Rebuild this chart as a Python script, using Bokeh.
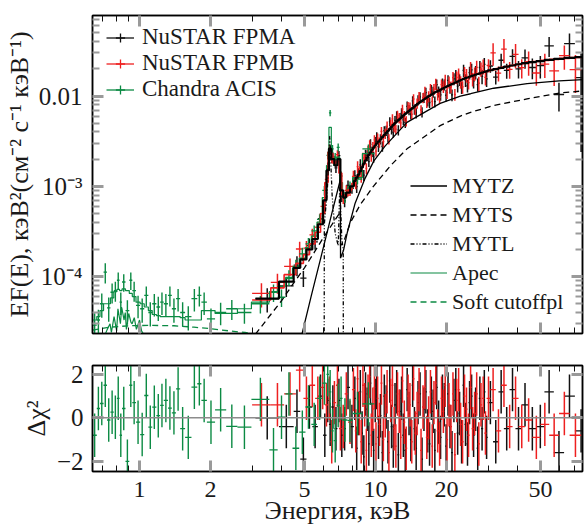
import numpy as np
from bokeh.plotting import figure
from bokeh.models import (Range1d, FixedTicker, CustomJSTickFormatter, LogAxis, LinearAxis,
                          Legend, LegendItem, Span, ColumnDataSource)
from bokeh.layouts import column
from bokeh.embed import file_html
from bokeh.resources import INLINE

# ---------------- data ----------------
# NuSTAR FPMA: bin edges (keV), EF(E), fractional error, residual (sigma), folded model
FPMA_edges = [3.1, 3.9, 4.5, 4.8, 5.1, 5.4, 5.7, 6.0, 6.2, 6.35, 6.5, 6.7, 6.9, 7.1, 7.3, 7.5, 7.8,
              8.1, 8.25, 8.4, 8.55, 8.7, 8.85, 9.0, 9.15, 9.3, 9.45, 9.6, 9.75, 9.9, 10.05, 10.2,
              10.4, 10.6, 10.8, 11.0, 11.2, 11.4, 11.6, 11.8, 12.0, 12.2, 12.4, 12.6, 12.8, 13.0,
              13.25, 13.5, 13.75, 14.0, 14.25, 14.5, 14.75, 15.0, 15.3, 15.6, 15.9, 16.2, 16.5,
              16.8, 17.1, 17.4, 17.7, 18.0, 18.35, 18.7, 19.05, 19.4, 19.75, 20.1, 20.5, 20.9,
              21.3, 21.7, 22.1, 22.5, 22.95, 23.4, 23.85, 24.3, 24.8, 25.3, 25.8, 26.3, 26.85,
              27.4, 28.0, 28.6, 29.25, 29.9,
              31.5, 33.2, 35.0, 37.0, 39.2, 41.6, 44.5, 48.0, 52.0, 57.0, 63.0, 70.0, 79.0]
FPMA_flux = [5.7e-5, 7.9e-5, 1.34e-4, 9.6e-5, 2.2e-4, 2.42e-4, 4.37e-4, 6.16e-4, 1.64e-3, 2.52e-3,
             2.12e-3, 1.6e-3, 2.19e-3, 7.9e-4, 6.9e-4, 1.02e-3, 9.5e-4,
             1.31e-3, 9.9e-4, 1.39e-3, 1.73e-3, 1.46e-3, 1.33e-3, 2.23e-3, 2.2e-3, 1.88e-3, 2.91e-3,
             2.43e-3, 2.12e-3, 3.12e-3, 3.52e-3, 2.75e-3, 3.34e-3, 2.77e-3, 4.14e-3, 4.15e-3, 3.51e-3,
             5.21e-3, 4.31e-3, 3.97e-3, 5.36e-3, 6.01e-3, 4.21e-3, 5.8e-3, 6.48e-3, 5.45e-3, 5.1e-3,
             7.69e-3, 7.02e-3, 6.25e-3, 8.82e-3, 7.15e-3, 6.49e-3, 9.0e-3, 9.77e-3, 6.66e-3, 9.63e-3,
             1.09e-2, 8.93e-3, 8.48e-3, 1.165e-2, 1.11e-2, 8.65e-3, 1.34e-2, 1.12e-2, 1.03e-2, 1.37e-2,
             1.34e-2, 1.02e-2, 1.49e-2, 1.245e-2, 1.03e-2, 1.55e-2, 1.69e-2, 1.29e-2, 1.52e-2, 1.25e-2,
             1.92e-2, 1.5e-2, 1.3e-2, 1.82e-2, 1.95e-2, 1.46e-2, 1.84e-2, 1.34e-2, 2.07e-2, 1.65e-2,
             2.24e-2, 1.55e-2,
             2.15e-2, 1.62e-2, 2.49e-2, 1.92e-2, 2.75e-2, 2.0e-2, 2.64e-2, 2.07e-2, 2.17e-2, 3.6e-2,
             1.04e-2, 3.8e-2, 1.6e-2]
FPMA_ferr = [0.30, 0.25, 0.25, 0.20, 0.20, 0.18, 0.15, 0.15, 0.12, 0.10,
             0.12, 0.12, 0.12, 0.15, 0.15, 0.14, 0.13,
             0.15, 0.15, 0.14, 0.15, 0.14, 0.14, 0.14, 0.14, 0.13, 0.14,
             0.13, 0.14, 0.13, 0.13, 0.13, 0.13, 0.13, 0.12, 0.13, 0.13,
             0.12, 0.13, 0.13, 0.12, 0.13, 0.13, 0.12, 0.13, 0.13, 0.13,
             0.13, 0.13, 0.12, 0.13, 0.13, 0.13, 0.13, 0.13, 0.13, 0.13,
             0.13, 0.14, 0.13, 0.14, 0.14, 0.14, 0.14, 0.14, 0.14, 0.14,
             0.14, 0.15, 0.14, 0.15, 0.15, 0.15, 0.15, 0.15, 0.15, 0.16,
             0.16, 0.16, 0.16, 0.16, 0.17, 0.17, 0.17, 0.17, 0.18, 0.18,
             0.18, 0.19,
             0.16, 0.17, 0.18, 0.19, 0.20, 0.22, 0.24, 0.26, 0.28, 0.25,
             0.35, 0.30, 0.85]
FPMA_resid = [0.0, -0.4, 0.3, -1.9, 0.5, -0.4, 1.0, -0.8, 0.8, -0.3,
              0.5, -0.5, 0.8, -0.8, -0.5, 1.4, -0.4,
              0.9, -1.4, 0.2, 1.2, -0.7, -1.8, 1.1, 0.4, -1.2, 1.6,
              -0.3, -1.5, 0.8, 1.4, -0.9, 0.1, -1.6, 1.0, 0.5, -1.1,
              1.7, -0.4, -1.3, 0.6, 1.2, -1.7, 0.3, 0.9, -0.8, -1.5,
              1.3, 0.2, -1.0, 1.5, -0.5, -1.4, 0.7, 1.1, -1.9, 0.4,
              1.2, -0.6, -1.2, 0.9, 0.3, -1.5, 1.4, -0.2, -0.9, 1.0,
              0.6, -1.3, 1.1, -0.4, -1.6, 0.8, 1.3, -0.7, 0.2, -1.1,
              1.5, -0.3, -1.2, 0.7, 1.0, -0.8, 0.4, -1.4, 0.9, -0.5,
              1.2, -0.9,
              0.7, -1.1, 1.2, -0.5, 1.3, -0.5, 0.6, -0.5, -0.4, 1.2,
              -1.6, 1.0, -0.6]
FPMA_model = [5.7e-5, 8.8e-5, 1.25e-4, 1.55e-4, 2.0e-4, 2.6e-4, 3.8e-4, 7.0e-4, 1.5e-3, 2.6e-3,
              2.0e-3, 1.7e-3, 2.0e-3, 9.0e-4, 7.5e-4, 8.5e-4, 1.0e-3,
              1.15e-3, 1.25e-3, 1.35e-3, 1.47e-3, 1.62e-3, 1.78e-3, 1.93e-3, 2.08e-3, 2.23e-3, 2.38e-3,
              2.53e-3, 2.68e-3, 2.83e-3, 2.98e-3, 3.12e-3, 3.3e-3, 3.5e-3, 3.7e-3, 3.9e-3, 4.1e-3,
              4.33e-3, 4.55e-3, 4.78e-3, 5.0e-3, 5.2e-3, 5.4e-3, 5.6e-3, 5.8e-3, 6.08e-3, 6.33e-3,
              6.58e-3, 6.84e-3, 7.1e-3, 7.38e-3, 7.65e-3, 7.93e-3, 8.25e-3, 8.55e-3, 8.85e-3, 9.15e-3,
              9.45e-3, 9.75e-3, 1.005e-2, 1.035e-2, 1.065e-2, 1.095e-2, 1.12e-2, 1.15e-2, 1.175e-2, 1.205e-2,
              1.235e-2, 1.265e-2, 1.295e-2, 1.325e-2, 1.355e-2, 1.385e-2, 1.415e-2, 1.445e-2, 1.48e-2, 1.515e-2,
              1.545e-2, 1.575e-2, 1.605e-2, 1.635e-2, 1.665e-2, 1.695e-2, 1.725e-2, 1.755e-2, 1.785e-2, 1.815e-2,
              1.845e-2, 1.875e-2,
              1.93e-2, 1.99e-2, 2.05e-2, 2.12e-2, 2.18e-2, 2.25e-2, 2.31e-2, 2.38e-2, 2.44e-2, 2.51e-2,
              2.58e-2, 2.64e-2, 2.7e-2]

# NuSTAR FPMB
FPMB_edges = [3.0, 3.6, 4.1, 4.6, 4.95, 5.25, 5.55, 5.85, 6.1, 6.3, 6.45, 6.6, 6.8, 7.0, 7.2, 7.4,
              7.65, 7.95,
              8.175, 8.325, 8.475, 8.625, 8.775, 8.925, 9.075, 9.225, 9.375, 9.525, 9.675, 9.825,
              9.975, 10.125, 10.3, 10.5, 10.7, 10.9, 11.1, 11.3, 11.5, 11.7, 11.9, 12.1, 12.3, 12.5,
              12.7, 12.9, 13.125, 13.375, 13.625, 13.875, 14.125, 14.375, 14.625, 14.875, 15.15,
              15.45, 15.75, 16.05, 16.35, 16.65, 16.95, 17.25, 17.55, 17.85, 18.175, 18.525, 18.875,
              19.225, 19.575, 19.925, 20.3, 20.7, 21.1, 21.5, 21.9, 22.3, 22.725, 23.175, 23.625,
              24.075, 24.55, 25.05, 25.55, 26.05, 26.575, 27.125, 27.7, 28.3, 28.925, 29.575,
              30.7, 32.35, 34.1, 36.0, 38.1, 40.4, 43.0, 46.2, 50.0, 54.5, 60.0, 66.5, 74.5]
FPMB_flux = [6.5e-5, 8.6e-5, 1.3e-4, 2.02e-4, 2.07e-4, 2.89e-4, 3.52e-4, 5.98e-4, 1.19e-3, 2.62e-3,
             2.02e-3, 1.95e-3, 2.24e-3, 1.31e-3, 7.5e-4, 9.0e-4, 8.96e-4,
             1.29e-3, 1.09e-3, 1.65e-3, 1.45e-3, 1.29e-3, 2.06e-3, 2.01e-3, 1.58e-3, 2.46e-3, 2.87e-3,
             2.18e-3, 2.74e-3, 3.26e-3, 2.45e-3, 3.41e-3, 3.08e-3, 4.05e-3, 3.13e-3, 3.85e-3, 4.62e-3,
             3.34e-3, 4.87e-3, 5.57e-3, 4.57e-3, 4.3e-3, 6.06e-3, 5.71e-3, 5.03e-3, 7.15e-3, 6.04e-3,
             5.28e-3, 7.58e-3, 7.51e-3, 6.28e-3, 9.27e-3, 7.08e-3, 8.3e-3, 9.82e-3, 7.0e-3, 9.59e-3,
             1.11e-2, 8.48e-3, 9.9e-3, 1.19e-2, 8.73e-3, 1.19e-2, 1.36e-2, 1.04e-2, 9.68e-3, 1.34e-2,
             1.27e-2, 1.51e-2, 1.09e-2, 1.43e-2, 1.26e-2, 1.6e-2, 1.04e-2, 1.61e-2, 1.75e-2, 1.43e-2,
             1.26e-2, 1.81e-2, 1.7e-2, 1.41e-2, 2.04e-2, 1.54e-2, 1.77e-2, 2.08e-2, 1.39e-2, 1.99e-2,
             2.14e-2, 1.61e-2,
             2.19e-2, 3.0e-2, 1.79e-2, 3.3e-2, 1.97e-2, 2.9e-2, 2.06e-2, 2.4e-2, 1.8e-2, 2.26e-2,
             1.9e-2, 2.8e-2, 1.96e-2]
FPMB_ferr = [0.30, 0.25, 0.22, 0.20, 0.20, 0.17, 0.15, 0.14, 0.13, 0.10,
             0.11, 0.12, 0.12, 0.13, 0.15, 0.14, 0.13,
             0.15, 0.15, 0.15, 0.14, 0.15, 0.14, 0.14, 0.14, 0.14, 0.13,
             0.14, 0.13, 0.13, 0.13, 0.13, 0.13, 0.12, 0.13, 0.13, 0.13,
             0.13, 0.12, 0.13, 0.13, 0.12, 0.13, 0.13, 0.13, 0.12, 0.13,
             0.13, 0.13, 0.13, 0.12, 0.13, 0.13, 0.13, 0.13, 0.13, 0.13,
             0.14, 0.13, 0.14, 0.14, 0.13, 0.14, 0.14, 0.14, 0.14, 0.14,
             0.15, 0.14, 0.15, 0.15, 0.15, 0.15, 0.15, 0.16, 0.15, 0.16,
             0.16, 0.16, 0.17, 0.16, 0.17, 0.17, 0.17, 0.18, 0.18, 0.18,
             0.19, 0.19,
             0.17, 0.28, 0.19, 0.30, 0.21, 0.30, 0.24, 0.30, 0.28, 0.30,
             0.32, 0.30, 0.45]
FPMB_resid = [0.6, 0.6, 1.1, 2.2, 0.9, 1.5, 0.9, 1.4, 0.6, 0.9,
              -1.1, 0.7, 1.5, -0.5, -0.4, 1.1, -0.2,
              1.3, -0.6, 1.8, 0.2, -1.1, 1.5, 0.6, -1.5, 1.0, 1.9,
              -0.8, 0.4, 1.4, -1.2, 0.9, -0.3, 1.6, -1.0, 0.1, 1.2,
              -1.6, 0.8, 1.5, -0.5, -1.3, 1.1, 0.3, -0.9, 1.7, -0.2,
              -1.4, 1.0, 0.6, -1.1, 1.8, -0.7, 0.2, 1.3, -1.5, 0.5,
              1.4, -0.9, 0.0, 1.2, -1.3, 0.7, 1.6, -0.6, -1.2, 0.9,
              0.3, 1.5, -1.0, 0.6, -0.4, 1.1, -1.7, 0.8, 1.3, -0.3,
              -1.1, 1.0, 0.4, -0.8, 1.4, -0.5, 0.2, 1.1, -1.2, 0.6,
              0.9, -0.7,
              0.9, 1.3, -0.6, 1.5, -0.4, 0.9, -0.4, -0.1, -0.9, -0.3,
              -0.8, 0.2, -0.8]
FPMB_model = [5.5e-5, 7.5e-5, 1.05e-4, 1.4e-4, 1.75e-4, 2.3e-4, 3.1e-4, 5.0e-4, 1.1e-3, 2.4e-3,
              2.3e-3, 1.8e-3, 1.9e-3, 1.4e-3, 8.0e-4, 7.8e-4, 9.2e-4,
              1.08e-3, 1.2e-3, 1.3e-3, 1.41e-3, 1.545e-3, 1.7e-3, 1.855e-3, 2.005e-3, 2.155e-3, 2.305e-3,
              2.455e-3, 2.605e-3, 2.755e-3, 2.905e-3, 3.05e-3, 3.21e-3, 3.4e-3, 3.6e-3, 3.8e-3, 4.0e-3,
              4.215e-3, 4.44e-3, 4.665e-3, 4.89e-3, 5.1e-3, 5.3e-3, 5.5e-3, 5.7e-3, 5.94e-3, 6.205e-3,
              6.455e-3, 6.71e-3, 6.97e-3, 7.24e-3, 7.515e-3, 7.79e-3, 8.09e-3, 8.4e-3, 8.7e-3, 9.0e-3,
              9.3e-3, 9.6e-3, 9.9e-3, 1.02e-2, 1.05e-2, 1.08e-2, 1.108e-2, 1.135e-2, 1.163e-2, 1.19e-2,
              1.22e-2, 1.25e-2, 1.28e-2, 1.31e-2, 1.34e-2, 1.37e-2, 1.4e-2, 1.43e-2, 1.463e-2, 1.498e-2,
              1.53e-2, 1.56e-2, 1.59e-2, 1.62e-2, 1.65e-2, 1.68e-2, 1.71e-2, 1.74e-2, 1.77e-2, 1.8e-2,
              1.83e-2, 1.86e-2,
              1.9e-2, 1.96e-2, 2.02e-2, 2.09e-2, 2.15e-2, 2.22e-2, 2.28e-2, 2.35e-2, 2.41e-2, 2.48e-2,
              2.55e-2, 2.61e-2, 2.67e-2]

# Chandra ACIS
ACIS_edges = [0.632, 0.659, 0.680, 0.704, 0.728, 0.753, 0.778, 0.802, 0.823, 0.843,
              0.872, 0.905, 0.932, 0.966, 1.006, 1.047, 1.090, 1.132, 1.179, 1.223,
              1.267, 1.320, 1.371, 1.428, 1.487, 1.560, 1.660, 1.757, 1.829, 1.930,
              2.090, 2.330, 2.600, 2.980, 3.550, 3.850, 4.150, 4.450, 4.750, 5.050,
              5.350, 5.650, 5.950, 6.200, 6.350, 6.500, 6.650, 6.850, 7.050, 7.250,
              7.600, 8.000, 8.800, 9.900]
ACIS_flux = [2.9e-5, 3.3e-5, 5.0e-5, 1.12e-4, 4.5e-5, 6.7e-5, 7.0e-5, 9.1e-5, 5.2e-5, 8.7e-5,
             4.2e-5, 9.1e-5, 7.0e-5, 4.8e-5, 4.4e-5, 6.2e-5, 4.0e-5, 5.0e-5, 4.6e-5, 5.2e-5,
             5.0e-5, 6.2e-5, 4.4e-5, 5.7e-5, 4.0e-5, 3.6e-5, 5.7e-5, 6.2e-5, 5.2e-5, 3.4e-5,
             4.0e-5, 4.4e-5, 4.0e-5, 5.0e-5, 6.7e-5, 5.9e-5, 9.8e-5, 1.3e-4, 1.78e-4, 2.3e-4,
             3.2e-4, 4.3e-4, 9.0e-4, 2.2e-3, 6.5e-3, 2.6e-3, 2.1e-3, 2.7e-3, 1.3e-3, 7.6e-4,
             1.0e-3, 1.2e-3, 2.6e-3]
ACIS_ferr = [0.35, 0.30, 0.30, 0.25, 0.30, 0.25, 0.25, 0.22, 0.28, 0.22,
             0.30, 0.22, 0.25, 0.28, 0.30, 0.25, 0.30, 0.28, 0.30, 0.28,
             0.28, 0.25, 0.30, 0.28, 0.30, 0.30, 0.28, 0.25, 0.28, 0.30,
             0.28, 0.25, 0.25, 0.22, 0.22, 0.22, 0.20, 0.18, 0.17, 0.16,
             0.15, 0.14, 0.12, 0.10, 0.08, 0.10, 0.11, 0.10, 0.12, 0.14,
             0.13, 0.12, 0.12]
ACIS_resid = [-0.8, 0.43, 0.66, 1.5, -0.1, 0.26, 0.03, 0.9, -0.8, 0.43,
              -2.0, 1.5, 0.7, -0.2, -0.77, 1.03, -0.43, 0.49, 0.1, 0.57,
              0.8, 0.45, 0.23, 1.33, -0.5, -0.9, 1.41, 1.57, 0.8, -0.2,
              0.37, -0.39, -0.43, 0.85, -1.47, 0.03, 1.1, -1.4, -0.66, 0.5,
              -0.3, 0.9, 1.6, 2.0, 1.2, -0.6, -1.05, 0.57, 0.9, -0.1,
              -0.12, 0.2, 0.64]
ACIS_model = [3.3e-5, 3.6e-5, 4.2e-5, 5.0e-5, 5.0e-5, 5.8e-5, 6.8e-5, 7.2e-5, 7.0e-5, 7.3e-5,
              7.0e-5, 6.5e-5, 6.0e-5, 5.2e-5, 5.0e-5, 4.6e-5, 4.2e-5, 3.8e-5, 3.7e-5, 3.6e-5,
              3.6e-5, 3.6e-5, 3.6e-5, 3.6e-5, 3.5e-5, 3.3e-5, 3.3e-5, 3.3e-5, 4.2e-5, 4.2e-5,
              3.9e-5, 3.9e-5, 4.4e-5, 5.2e-5, 6.8e-5, 7.8e-5, 9.5e-5, 1.25e-4, 1.6e-4, 2.1e-4,
              2.8e-4, 4.0e-4, 7.5e-4, 1.7e-3, 4.5e-3, 2.0e-3, 1.7e-3, 2.1e-3, 1.1e-3, 7.8e-4,
              9.5e-4, 1.25e-3, 2.3e-3]
RESID_ERR = 1.0  # residuals are in units of sigma

# model components (E in keV, EF(E))
MYTZ_E = [4.86, 5.35, 5.9, 6.5, 7.1, 7.11, 7.32, 7.6, 8.2, 9.0, 9.83, 11.0, 13.6, 18.8, 22.9,
          25.3, 31.7, 43.9, 60.0, 76.0]
MYTZ_F = [2.2e-5, 6.2e-5, 1.72e-4, 4.77e-4, 1.19e-3, 1.6e-4, 1.95e-4, 3.1e-4, 6.5e-4, 1.2e-3,
          1.9e-3, 2.8e-3, 5.1e-3, 8.3e-3, 1.0e-2, 1.06e-2, 1.22e-2, 1.37e-2, 1.47e-2, 1.52e-2]
MYTS_E = [3.1, 3.6, 4.0, 4.49, 5.0, 5.5, 6.02, 6.6, 7.1, 7.11, 7.32, 7.83, 8.6, 9.8, 11.6, 13.6,
          18.8, 22.9, 25.3, 31.7, 43.9, 60.6, 76.0]
MYTS_F = [2.3e-5, 3.8e-5, 5.4e-5, 8.4e-5, 1.25e-4, 1.85e-4, 2.71e-4, 3.9e-4, 5.2e-4, 2.2e-4,
          2.4e-4, 3.97e-4, 6.2e-4, 1.0e-3, 1.7e-3, 2.6e-3, 4.7e-3, 6.0e-3, 6.6e-3, 7.85e-3,
          9.3e-3, 1.08e-2, 1.14e-2]
MYTL_E = [6.05, 6.07, 6.25, 6.4, 6.55, 6.75, 6.95, 7.06, 7.2, 7.3, 7.32]
MYTL_F = [1e-7, 3.8e-4, 9e-4, 3.6e-3, 8e-4, 3.0e-4, 2.2e-4, 1.0e-3, 2.6e-4, 2.0e-4, 1e-7]
APEC_E = [0.632, 0.70, 0.73, 0.75, 0.76, 0.78, 0.80, 0.81, 0.83, 0.84, 0.86, 0.87, 0.88, 0.90,
          0.92, 0.93, 0.95, 0.97, 1.00, 1.02, 1.05, 1.10, 1.2]
APEC_F = [1.5e-5, 2.0e-5, 2.6e-5, 3.0e-5, 2.4e-5, 3.6e-5, 2.5e-5, 4.4e-5, 3.0e-5, 4.6e-5, 3.3e-5,
          4.0e-5, 2.6e-5, 3.9e-5, 3.1e-5, 3.0e-5, 3.5e-5, 2.6e-5, 3.3e-5, 2.5e-5, 2.2e-5, 1.5e-5,
          1.0e-5]
SOFT_E = [0.632, 0.75, 0.9, 1.1, 1.4, 1.7, 2.0, 2.4, 2.8, 3.3]
SOFT_F = [2.55e-5, 2.75e-5, 2.85e-5, 2.88e-5, 2.85e-5, 2.75e-5, 2.65e-5, 2.5e-5, 2.4e-5, 2.25e-5]

for nm, e, a, b, c, d in [("FPMA", FPMA_edges, FPMA_flux, FPMA_ferr, FPMA_resid, FPMA_model),
                          ("FPMB", FPMB_edges, FPMB_flux, FPMB_ferr, FPMB_resid, FPMB_model),
                          ("ACIS", ACIS_edges, ACIS_flux, ACIS_ferr, ACIS_resid, ACIS_model)]:
    n = len(e) - 1
    if not (len(a) == len(b) == len(c) == len(d) == n):
        raise SystemExit(f"{nm}: bins {n}, flux {len(a)}, ferr {len(b)}, resid {len(c)}, model {len(d)}")

# axes
XT_MAJOR = [1, 2, 5, 10, 20, 50]
XT_LABELS = ["1", "2", "5", "10", "20", "50"]
XT_MINOR = [0.7, 0.8, 0.9, 3, 4, 6, 7, 8, 9, 30, 40, 60, 70]
YT_MAJOR = [1e-4, 1e-3, 1e-2]
YT_LABELS = ["10⁻⁴", "10⁻³", "0.01"]
YT_MINOR = [k * 10.0 ** e for e in (-5, -4, -3, -2) for k in range(2, 10)]
RT_MAJOR = [-2, 0, 2]
RT_LABELS = ["−2", "0", "2"]
XR = (0.632, 75.4)
YR_TOP = (2.34e-5, 0.078)
YR_RES = (-2.47, 2.41)

# ---------------- style ----------------
FONT = "Liberation Serif"
TXT = "#1a1a1a"
BLACK = "#111111"
RED = "#ee2020"
GREEN = "#0b8a43"
W = 584


def fmt(vals, labs):
    return CustomJSTickFormatter(args=dict(vals=list(vals), labs=list(labs)), code="""
        for (let i = 0; i < vals.length; i++) {
            if (Math.abs(tick - vals[i]) <= 1e-9 + 1e-6 * Math.abs(vals[i])) return labs[i];
        }
        return "";
    """)


def style_axis(ax, ticks, minor, labels, minor_color=BLACK, minor_w=1, minor_len=6, size="24px"):
    ax.ticker = FixedTicker(ticks=list(ticks), minor_ticks=list(minor))
    ax.axis_line_color = "black"
    ax.axis_line_width = 1.5
    ax.major_tick_in = 11
    ax.major_tick_out = 0
    ax.major_tick_line_color = "#9a9a9a"
    ax.major_tick_line_width = 3
    ax.minor_tick_in = minor_len
    ax.minor_tick_out = 0
    ax.minor_tick_line_color = minor_color
    ax.minor_tick_line_width = minor_w
    ax.major_label_text_font = FONT
    ax.major_label_text_color = TXT
    ax.axis_label_text_font = FONT
    ax.axis_label_text_font_style = "normal"
    ax.axis_label_text_color = TXT
    if labels is None:
        ax.formatter = CustomJSTickFormatter(code="return '';")
        ax.major_label_text_font_size = "1px"
        ax.major_label_standoff = 0
        ax.axis_label = None
    else:
        ax.formatter = fmt(ticks, labels)
        ax.major_label_text_font_size = size


def bins(edges):
    e = np.asarray(edges, float)
    return e[:-1], e[1:], np.sqrt(e[:-1] * e[1:])


def step_xy(edges, model):
    e = np.asarray(edges, float)
    return np.repeat(e, 2)[1:-1], np.repeat(np.asarray(model, float), 2)


p1 = figure(width=W, height=345, x_axis_type="log", y_axis_type="log",
            x_range=Range1d(*XR), y_range=Range1d(*YR_TOP),
            output_backend="svg", toolbar_location=None,
            min_border_left=92, min_border_right=2, min_border_top=15, min_border_bottom=12)
p2 = figure(width=W, height=182, x_axis_type="log",
            x_range=p1.x_range, y_range=Range1d(*YR_RES),
            output_backend="svg", toolbar_location=None,
            min_border_left=92, min_border_right=2, min_border_top=20, min_border_bottom=56)
for p in (p1, p2):
    p.grid.visible = False
    p.outline_line_color = "black"
    p.outline_line_width = 1.5
    p.background_fill_color = "white"
    p.border_fill_color = "white"

# top panel axes
style_axis(p1.xaxis[0], XT_MAJOR, XT_MINOR, None)
style_axis(p1.yaxis[0], YT_MAJOR, YT_MINOR, YT_LABELS, minor_color="#9a9a9a", minor_w=2,
           minor_len=7, size="25px")
p1.yaxis[0].major_label_standoff = 10
p1.yaxis[0].axis_label = "EF(E), кэВ²(см⁻² с⁻¹ кэВ⁻¹)"
p1.yaxis[0].axis_label_text_font_size = "26px"
p1.yaxis[0].axis_label_standoff = 2
ax_t = LogAxis()
style_axis(ax_t, XT_MAJOR, XT_MINOR, None)
p1.add_layout(ax_t, "above")
ax_r = LogAxis()
style_axis(ax_r, YT_MAJOR, YT_MINOR, None, minor_color="#9a9a9a", minor_w=2, minor_len=7)
p1.add_layout(ax_r, "right")

# residual panel axes
style_axis(p2.xaxis[0], XT_MAJOR, XT_MINOR, XT_LABELS, size="24px")
p2.xaxis[0].major_label_standoff = 10
p2.xaxis[0].axis_label = "Энергия, кэВ"
p2.xaxis[0].axis_label_text_font_size = "26px"
p2.xaxis[0].axis_label_standoff = -4
style_axis(p2.yaxis[0], RT_MAJOR, [], RT_LABELS, size="25px")
p2.yaxis[0].major_label_standoff = 9
p2.yaxis[0].axis_label = "Δχ²"
p2.yaxis[0].axis_label_text_font_size = "26px"
p2.yaxis[0].axis_label_standoff = 3
ax_t2 = LogAxis()
style_axis(ax_t2, XT_MAJOR, XT_MINOR, None)
p2.add_layout(ax_t2, "above")
ax_r2 = LinearAxis()
style_axis(ax_r2, RT_MAJOR, [], None)
p2.add_layout(ax_r2, "right")

p2.add_layout(Span(location=0, dimension="width", line_color="#8c8c8c", line_width=1.5))


def add_spectrum(edges, flux, ferr, resid, color, lw):
    lo, hi, c = bins(edges)
    f = np.asarray(flux, float)
    fe = np.asarray(ferr, float)
    r = np.asarray(resid, float)
    src = ColumnDataSource(dict(lo=lo, hi=hi, c=c, f=f, flo=f * (1 - fe), fhi=f * (1 + fe),
                                r=r, rlo=r - RESID_ERR, rhi=r + RESID_ERR))
    hx = p1.segment(x0="lo", y0="f", x1="hi", y1="f", source=src, line_color=color, line_width=1.3)
    p1.segment(x0="c", y0="flo", x1="c", y1="fhi", source=src, line_color=color, line_width=lw)
    mk = p1.scatter(x="c", y="f", source=src, marker="cross", size=0, line_color=color, line_width=1.3)
    p2.segment(x0="lo", y0="r", x1="hi", y1="r", source=src, line_color=color, line_width=1.3)
    p2.segment(x0="c", y0="rlo", x1="c", y1="rhi", source=src, line_color=color, line_width=lw)
    return [hx, mk]


r_a = add_spectrum(FPMA_edges, FPMA_flux, FPMA_ferr, FPMA_resid, BLACK, 1.5)
r_b = add_spectrum(FPMB_edges, FPMB_flux, FPMB_ferr, FPMB_resid, RED, 1.5)
r_c = add_spectrum(ACIS_edges, ACIS_flux, ACIS_ferr, ACIS_resid, GREEN, 1.4)

# folded model steps
sx, sy = step_xy(ACIS_edges, ACIS_model)
p1.line(sx, sy, line_color=GREEN, line_width=1.2)
sx, sy = step_xy(FPMB_edges, FPMB_model)
p1.line(sx, sy, line_color=RED, line_width=1.6)
sx, sy = step_xy(FPMA_edges, FPMA_model)
p1.line(sx, sy, line_color="black", line_width=2.2)

# components
l_z = p1.line(MYTZ_E, MYTZ_F, line_color="black", line_width=1.3)
l_s = p1.line(MYTS_E, MYTS_F, line_color="black", line_width=1.3, line_dash="6 4")
l_l = p1.line(MYTL_E, MYTL_F, line_color="black", line_width=1.3, line_dash="4 2 1 2 1 2")
l_a = p1.line(APEC_E, APEC_F, line_color=GREEN, line_width=1.2)
l_p = p1.line(SOFT_E, SOFT_F, line_color=GREEN, line_width=1.3, line_dash="6 4")

leg1 = Legend(items=[LegendItem(label="NuSTAR FPMA", renderers=r_a),
                     LegendItem(label="NuSTAR FPMB", renderers=r_b),
                     LegendItem(label="Chandra ACIS", renderers=r_c)],
              location=(14, 231), padding=0, margin=0, spacing=0,
              glyph_width=28, glyph_height=23, label_height=23, label_standoff=8,
              border_line_color=None, background_fill_alpha=0,
              label_text_font=FONT, label_text_font_size="23px", label_text_color=TXT)
leg2 = Legend(items=[LegendItem(label="MYTZ", renderers=[l_z]),
                     LegendItem(label="MYTS", renderers=[l_s]),
                     LegendItem(label="MYTL", renderers=[l_l]),
                     LegendItem(label="Apec", renderers=[l_a]),
                     LegendItem(label="Soft cutoffpl", renderers=[l_p])],
              location=(318, 17), padding=0, margin=0, spacing=0,
              glyph_width=37, glyph_height=29, label_height=29, label_standoff=5,
              border_line_color=None, background_fill_alpha=0,
              label_text_font=FONT, label_text_font_size="22px", label_text_color=TXT)
p1.add_layout(leg1)
p1.add_layout(leg2)

layout = column(p1, p2)
open("out.html", "w").write(file_html(layout, INLINE))
